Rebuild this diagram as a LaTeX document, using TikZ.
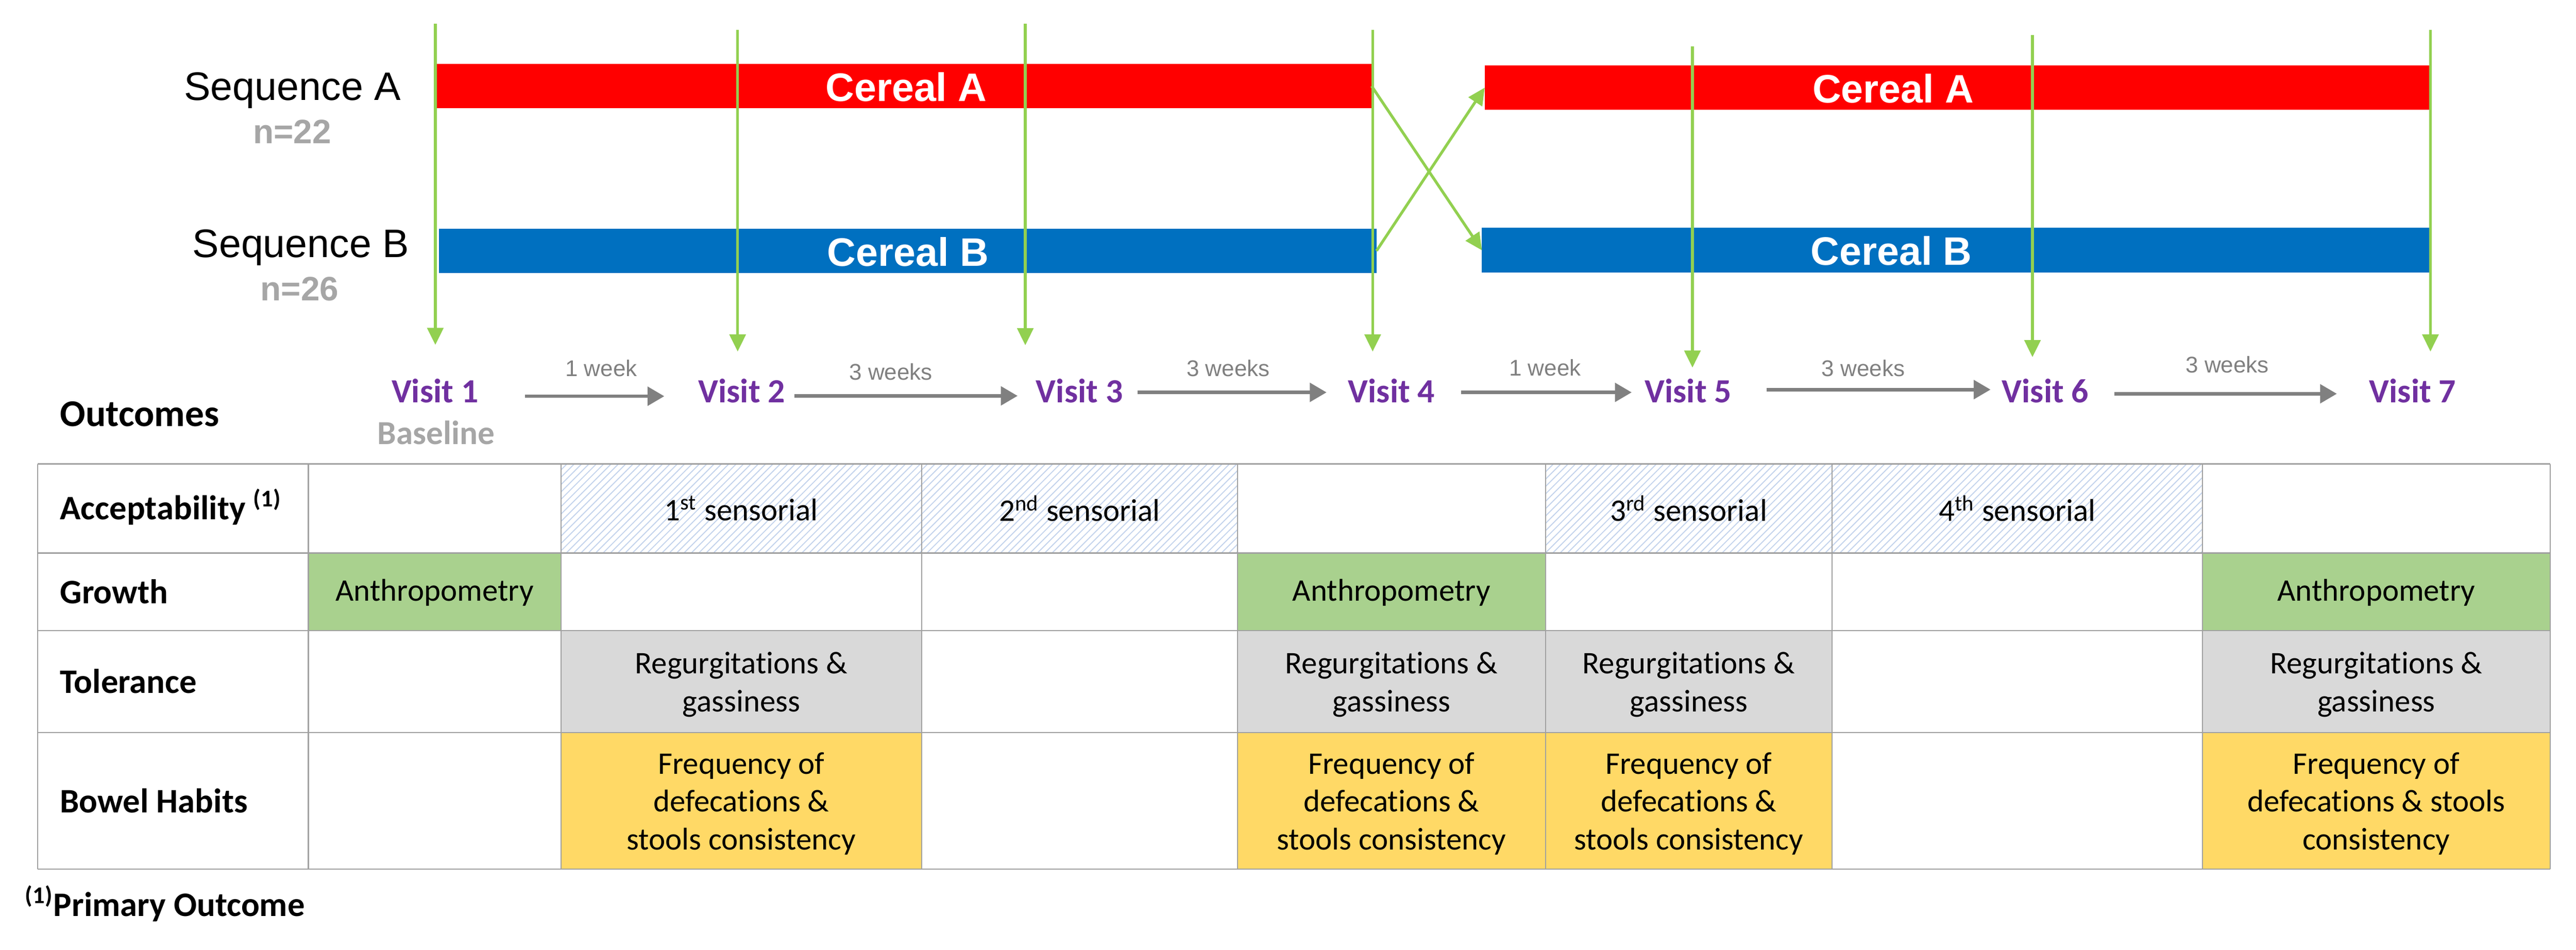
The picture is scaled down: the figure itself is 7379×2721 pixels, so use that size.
\documentclass[tikz,border=0pt]{standalone}
\usepackage{fontspec}
\setmainfont{Carlito}[Ligatures=NoCommon]
\newfontfamily\arialfont{Liberation Sans}
\usetikzlibrary{arrows.meta,positioning,patterns,calc}
\definecolor{cerealred}{HTML}{FF0000}
\definecolor{cerealblue}{HTML}{0070C0}
\definecolor{visitgreen}{HTML}{92D050}
\definecolor{visitpurple}{HTML}{7030A0}
\definecolor{weekgray}{HTML}{808080}
\definecolor{ngray}{HTML}{A6A6A6}
\definecolor{gridgray}{HTML}{A0A0A0}
\definecolor{growthgreen}{HTML}{A9D18E}
\definecolor{tolgray}{HTML}{D9D9D9}
\definecolor{bowelyellow}{HTML}{FFD966}
\definecolor{hatchblue}{HTML}{C3D3EC}
\tikzset{
bar/.style={rectangle,inner sep=0pt,outer sep=0pt,minimum height=128*0.05mm},
txt/.style={inner sep=0pt,outer sep=0pt},
seqlabel/.style={txt,font=\arialfont\fontsize{16.2}{19}\selectfont},
cerealtext/.style={txt,white,font=\arialfont\bfseries\fontsize{16.2}{19}\selectfont},
nlabel/.style={txt,ngray,font=\arialfont\bfseries\fontsize{13.8}{16}\selectfont},
visit/.style={txt,visitpurple,font=\bfseries\fontsize{13.8}{16}\selectfont},
baselinetext/.style={txt,ngray,font=\bfseries\fontsize{13.7}{16}\selectfont},
week/.style={txt,weekgray,font=\arialfont\fontsize{9.25}{11}\selectfont},
outcomes/.style={txt,font=\bfseries\fontsize{15.4}{18}\selectfont},
rowlabel/.style={txt,font=\bfseries\fontsize{14}{17}\selectfont},
celltext/.style={txt,align=center,font=\fontsize{12.8}{15.5}\selectfont},
greenarr/.style={-{Triangle[width=2.3mm,length=2.45mm]},line width=0.4mm,visitgreen},
grayarr/.style={-{Triangle[width=2.65mm,length=2.4mm]},line width=0.5mm,weekgray},
grid/.style={line width=0.5pt,gridgray},
}

\begin{document}
\begin{tikzpicture}[x=0.05mm,y=-0.05mm]
        \useasboundingbox (0,0) rectangle (7379,2721);

        % treatment bars
        \node[bar,fill=cerealred,minimum width=2677*0.05mm] (barA1) at (2590.5,246.5) {};
        \node[bar,fill=cerealblue,minimum width=2686*0.05mm] (barB1) at (2600,718.5) {};
        \node[bar,fill=cerealred,minimum width=2705*0.05mm] (barA2) at (5605.5,251) {};
        \node[bar,fill=cerealblue,minimum width=2713*0.05mm] (barB2) at (5601.5,717) {};

        \node[cerealtext,anchor=base] (cerA1) at (2596,290) {Cereal A};
        \node[cerealtext,anchor=base] (cerB1) at (2601,762) {Cereal B};
        \node[cerealtext,anchor=base] (cerA2) at (5423,295) {Cereal A};
        \node[cerealtext,anchor=base] (cerB2) at (5418,760) {Cereal B};

        \node[seqlabel,anchor=base east] (seqA) at (1148,287) {Sequence A};
        \node[nlabel,anchor=base] (nA) at (837,411) {n=22};
        \node[seqlabel,anchor=base east] (seqB) at (1172,737) {Sequence B};
        \node[nlabel,anchor=base] (nB) at (858,861) {n=26};

        % crossover
        \draw[greenarr] (barA1.east) -- (barB2.west);
        \draw[greenarr] (barB1.east) -- (barA2.west);

        % visit arrows
        \foreach \i/\x/\ya/\yb in {1/1247/68/988, 2/2113/86/1007, 3/2937/68/989,
            4/3932/86/1007, 5/4848/133/1053, 6/5822/101/1023, 7/6962/86/1007}{
            \coordinate (vtop\i) at (\x,\ya);
            \coordinate (vtip\i) at (\x,\yb);
            \draw[greenarr] (vtop\i) -- (vtip\i);
        }

        % visits and time line
        \foreach \i/\x in {1/1246, 2/2125, 3/3092, 4/3986, 5/4836, 6/5859, 7/6911}
            \node[visit,anchor=base] (v\i) at (\x,1153) {Visit \i};
        \node[baselinetext,anchor=base] (base1) at (1249,1273) {Baseline};
        \node[outcomes,anchor=base west] (outc) at (172,1221) {Outcomes};

        \node[week,anchor=base] (w1) at (1722,1078) {1 week};
        \node[week,anchor=base] (w2) at (2552,1088) {3 weeks};
        \node[week,anchor=base] (w3) at (3518,1078) {3 weeks};
        \node[week,anchor=base] (w4) at (4426,1076) {1 week};
        \node[week,anchor=base] (w5) at (5337,1078) {3 weeks};
        \node[week,anchor=base] (w6) at (6380,1068) {3 weeks};

        \foreach \i/\xa/\xb/\y in {1/1504/1903/1135, 2/2276/2915/1134, 3/3258/3800/1124,
            4/4186/4674/1124, 5/5061/5702/1116, 6/6057/6694/1128}{
            \coordinate (gs\i) at (\xa,\y);
            \coordinate (ge\i) at (\xb,\y);
            \draw[grayarr] (gs\i) -- (ge\i);
        }

        % table cells
        \foreach \xa/\xb in {1607/2640, 2640/3545, 4427/5248, 5248/6309}
            \fill[pattern=north east lines,pattern color=hatchblue] (\xa,1329) rectangle (\xb,1584);
        \foreach \xa/\xb in {883/1607, 3545/4427, 6309/7305}
            \fill[growthgreen] (\xa,1584) rectangle (\xb,1806);
        \foreach \xa/\xb in {1607/2640, 3545/4427, 4427/5248, 6309/7305}{
            \fill[tolgray] (\xa,1806) rectangle (\xb,2099);
            \fill[bowelyellow] (\xa,2099) rectangle (\xb,2490);
        }
        \foreach \x in {108,883,1607,2640,3545,4427,5248,6309,7305}
            \draw[grid] (\x,1329) -- (\x,2490);
        \foreach \y in {1329,1584,1806,2099,2490}
            \draw[grid] (108,\y) -- (7305,\y);

        \node[rowlabel,anchor=west] (accL) at (172,1452) {Acceptability~\textsuperscript{(1)}};
        \node[rowlabel,anchor=west] (groL) at (172,1695) {Growth};
        \node[rowlabel,anchor=west] (tolL) at (172,1952) {Tolerance};
        \node[rowlabel,anchor=west] (bowL) at (172,2294) {Bowel Habits};

        \node[celltext] (acc2) at (2123.5,1456.5) {1\textsuperscript{st} sensorial};
        \node[celltext] (acc3) at (3092.5,1456.5) {2\textsuperscript{nd} sensorial};
        \node[celltext] (acc5) at (4837.5,1456.5) {3\textsuperscript{rd} sensorial};
        \node[celltext] (acc6) at (5778.5,1456.5) {4\textsuperscript{th} sensorial};

        \foreach \c/\x in {1/1245, 4/3986, 7/6807}
            \node[celltext] (gro\c) at (\x,1697) {Anthropometry};
        \foreach \c/\x in {2/2123.5, 4/3986, 5/4837.5, 7/6807}
            \node[celltext] (tol\c) at (\x,1961) {Regurgitations \&\\gassiness};
        \foreach \c/\x in {2/2123.5, 4/3986, 5/4837.5}
            \node[celltext] (bow\c) at (\x,2302) {Frequency of\\defecations \&\\stools consistency};
        \node[celltext] (bow7) at (6807,2302) {Frequency of\\defecations \& stools\\consistency};

        \node[rowlabel,anchor=base west] (prim) at (72,2625) {\textsuperscript{(1)}Primary Outcome};
    \end{tikzpicture}
\end{document}
